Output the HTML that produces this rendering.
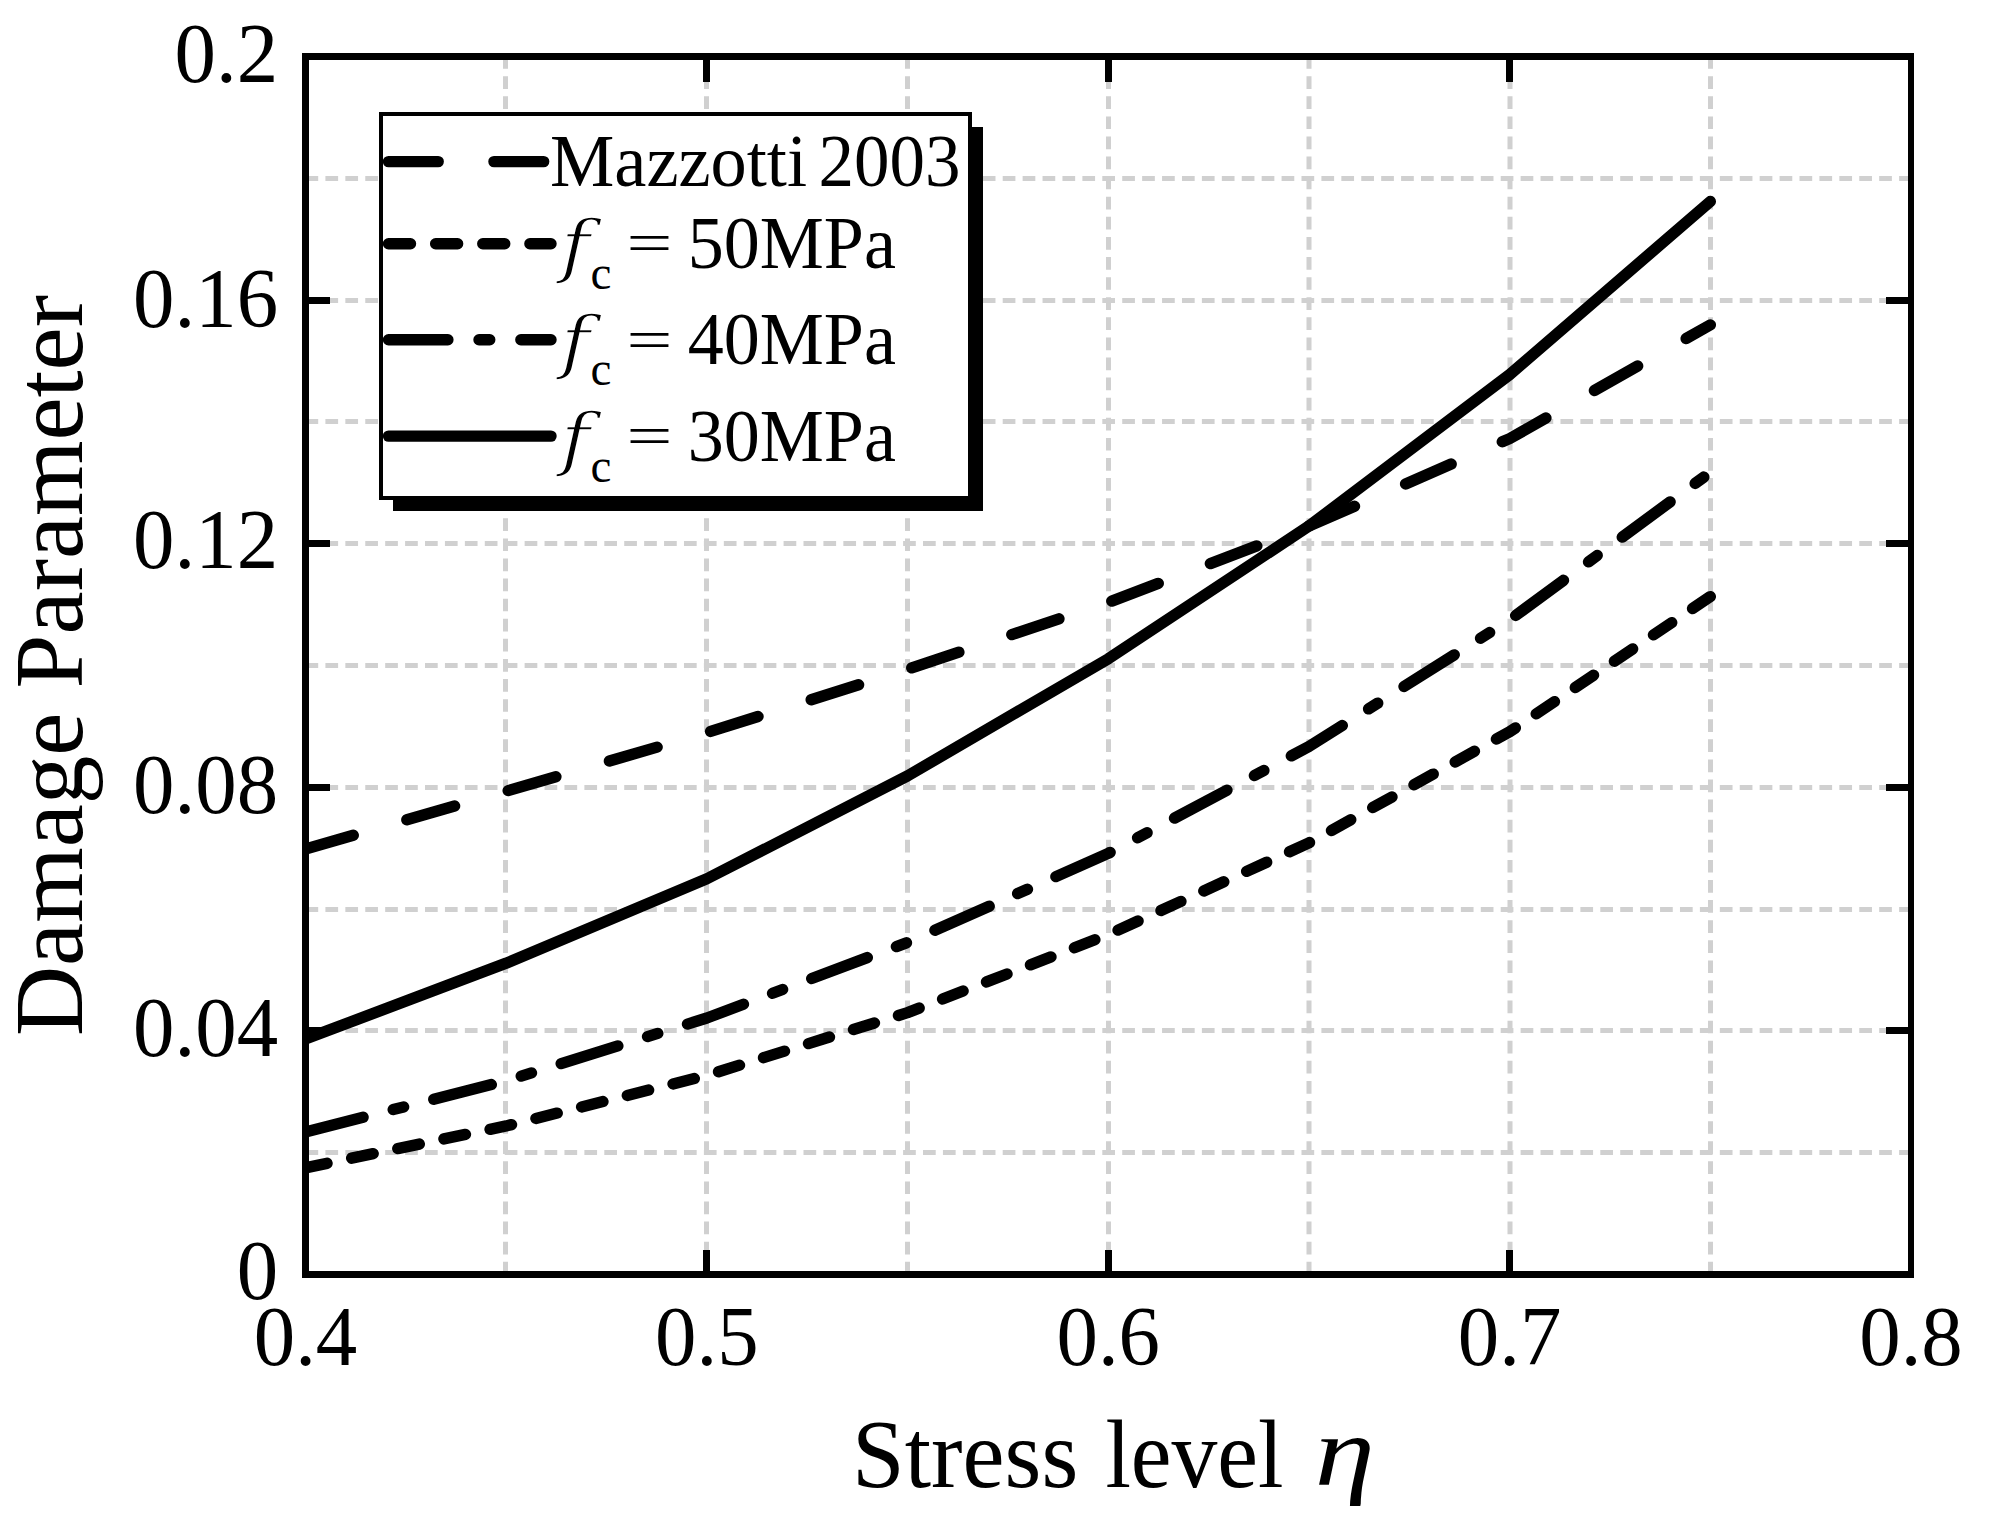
<!DOCTYPE html>
<html lang="en">
<head>
<meta charset="utf-8">
<title>Damage Parameter vs Stress level</title>
<style>
html,body{margin:0;padding:0;background:#fff;}
body{width:1998px;height:1528px;overflow:hidden;}
svg{display:block;}
text{font-family:"Liberation Serif",serif;fill:#000;}
.it{font-style:italic;}
.dj{font-family:"DejaVu Serif","Liberation Serif",serif;font-style:italic;stroke:#fff;stroke-width:1.5px;}
</style>
</head>
<body>
<svg width="1998" height="1528" viewBox="0 0 1998 1528">
<rect x="0" y="0" width="1998" height="1528" fill="#ffffff"/>
<defs><clipPath id="ax"><rect x="305.5" y="56.5" width="1605.5" height="1218"/></clipPath></defs>
<g stroke="#d0d0d0" stroke-width="5" fill="none">
<g stroke-dasharray="12.7 7.395">
<path d="M505.5 1274.5V56.5"/>
<path d="M706.5 1274.5V56.5"/>
<path d="M907.5 1274.5V56.5"/>
<path d="M1108.5 1274.5V56.5"/>
<path d="M1309 1274.5V56.5"/>
<path d="M1510 1274.5V56.5"/>
<path d="M1710.5 1274.5V56.5"/>
</g>
<g stroke-dasharray="12.7 7.22">
<path d="M305.5 1152.5H1911"/>
<path d="M305.5 1030.5H1911"/>
<path d="M305.5 909.5H1911"/>
<path d="M305.5 787.5H1911"/>
<path d="M305.5 665.5H1911"/>
<path d="M305.5 543.5H1911"/>
<path d="M305.5 421.5H1911"/>
<path d="M305.5 300.5H1911"/>
<path d="M305.5 178.5H1911"/>
</g>
</g>
<g stroke="#000" stroke-width="7" fill="none">
<path d="M305.5 1030.5h24.5"/><path d="M1911 1030.5h-25"/>
<path d="M305.5 787.5h24.5"/><path d="M1911 787.5h-25"/>
<path d="M305.5 543.5h24.5"/><path d="M1911 543.5h-25"/>
<path d="M305.5 300.5h24.5"/><path d="M1911 300.5h-25"/>
<path d="M706.5 1274.5v-24.5"/><path d="M706.5 56.5v25.5"/>
<path d="M1108.5 1274.5v-24.5"/><path d="M1108.5 56.5v25.5"/>
<path d="M1509.5 1274.5v-24.5"/><path d="M1509.5 56.5v25.5"/>
</g>
<g clip-path="url(#ax)" stroke="#000" stroke-width="11.4" stroke-linecap="round" stroke-linejoin="round" fill="none">
<polyline points="305.5,849 506.19,791.2 706.87,732.6 907.56,669.3 1108.25,602.4 1308.94,526.1 1509.63,438.6 1710.31,324.9" stroke-dasharray="49.7 55.76"/>
<polyline points="305.5,1167.8 506.19,1125.95 706.87,1075.4 907.56,1012.6 1108.25,934.6 1308.94,842.9 1509.63,731.8 1710.31,596.6" stroke-dasharray="22 25.13"/>
<polyline points="305.5,1131.9 506.19,1080.8 706.87,1018 907.56,942.4 1108.25,853.4 1308.94,746.5 1509.63,619.9 1710.31,472.3" stroke-dasharray="59.4 31.1 10.75 31.1"/>
<polyline points="305.5,1039 506.19,963.2 706.87,878.8 907.56,775.9 1108.25,658.8 1308.94,526.1 1509.63,374.6 1710.31,201.5"/>
</g>
<g fill="#000"><rect x="302" y="53" width="7" height="1225"/><rect x="1908" y="53" width="6" height="1225"/><rect x="302" y="53" width="1612" height="7"/><rect x="302" y="1271" width="1612" height="7"/></g>
<text transform="translate(278.1 1299) scale(0.975 1)" font-size="85" text-anchor="end">0</text>
<text transform="translate(278.1 1055.5) scale(0.975 1)" font-size="85" text-anchor="end">0.04</text>
<text transform="translate(278.1 812.9) scale(0.975 1)" font-size="85" text-anchor="end">0.08</text>
<text transform="translate(278.1 568.4) scale(0.975 1)" font-size="85" text-anchor="end">0.12</text>
<text transform="translate(278.1 326.5) scale(0.975 1)" font-size="85" text-anchor="end">0.16</text>
<text transform="translate(278.1 82.4) scale(0.975 1)" font-size="85" text-anchor="end">0.2</text>
<text transform="translate(305.5 1365.2) scale(0.975 1)" font-size="85" text-anchor="middle">0.4</text>
<text transform="translate(706.87 1365.2) scale(0.975 1)" font-size="85" text-anchor="middle">0.5</text>
<text transform="translate(1108.25 1365.2) scale(0.975 1)" font-size="85" text-anchor="middle">0.6</text>
<text transform="translate(1509.63 1365.2) scale(0.975 1)" font-size="85" text-anchor="middle">0.7</text>
<text transform="translate(1911 1365.2) scale(0.975 1)" font-size="85" text-anchor="middle">0.8</text>
<text transform="translate(852.1 1486.8) scale(0.976 1)" font-size="97">Stress</text>
<text transform="translate(1105.4 1486.8) scale(0.945 1)" font-size="97">level</text>
<text transform="translate(1314.8 1484.6) scale(1.21 1)" font-size="100" class="it">η</text>
<text transform="translate(81.6 665.5) rotate(-90)" font-size="97.05" text-anchor="middle">Damage Parameter</text>
<rect x="393" y="127" width="590" height="384" fill="#000"/>
<rect x="381" y="114" width="589" height="384" fill="#fff" stroke="#000" stroke-width="4"/>
<g stroke="#000" stroke-width="11.4" stroke-linecap="round" fill="none">
<path d="M388.5 161.6H551" stroke-dasharray="49.7 55.76"/>
<path d="M388.5 243.7H551" stroke-dasharray="22 25.13"/>
<path d="M388.5 339.7H551" stroke-dasharray="59.4 31.1 10.75 31.1"/>
<path d="M388.5 436.1H551"/>
</g>
<text transform="translate(550 186) scale(0.984 1)" font-size="73.5">Mazzotti</text>
<text transform="translate(818.5 186) scale(0.966 1)" font-size="73.5">2003</text>
<text transform="translate(560.6 269.6) scale(1.17 1)" font-size="68.3" class="dj">f</text>
<text transform="translate(590.5 289) scale(0.98 1)" font-size="48">c</text>
<text transform="translate(626.6 262.4) scale(1.108 0.78)" font-size="73.5">=</text>
<text transform="translate(687.8 267.7) scale(0.98 1)" font-size="73.5">50MPa</text>
<text transform="translate(560.6 365.8) scale(1.17 1)" font-size="68.3" class="dj">f</text>
<text transform="translate(590.5 385.2) scale(0.98 1)" font-size="48">c</text>
<text transform="translate(626.6 358.6) scale(1.108 0.78)" font-size="73.5">=</text>
<text transform="translate(687.8 363.9) scale(0.98 1)" font-size="73.5">40MPa</text>
<text transform="translate(560.6 462.5) scale(1.17 1)" font-size="68.3" class="dj">f</text>
<text transform="translate(590.5 481.9) scale(0.98 1)" font-size="48">c</text>
<text transform="translate(626.6 455.3) scale(1.108 0.78)" font-size="73.5">=</text>
<text transform="translate(687.8 460.6) scale(0.98 1)" font-size="73.5">30MPa</text>
</svg>
</body>
</html>
